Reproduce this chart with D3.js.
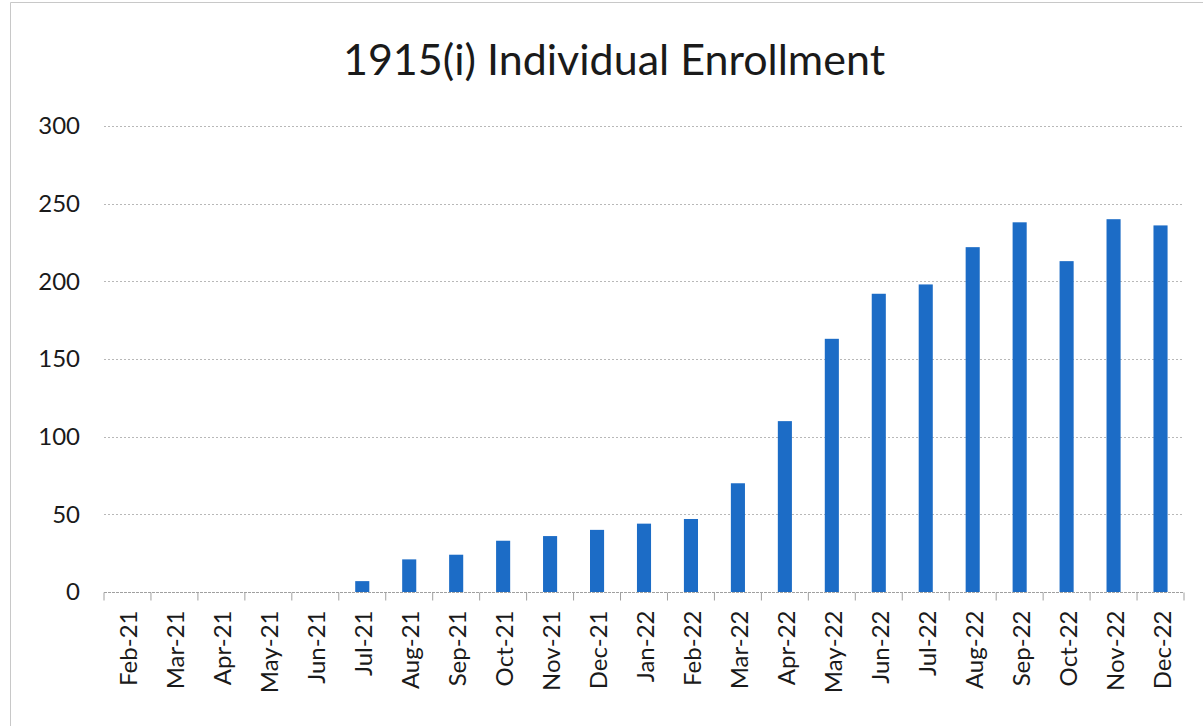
<!DOCTYPE html>
<html>
<head>
<meta charset="utf-8">
<script src="https://cdn.jsdelivr.net/npm/d3@7"></script>
<style>
  body { margin: 0; background: #fff; }
  svg { display: block; font-family: Lato, "Open Sans", sans-serif; }
</style>
</head>
<body>
<script>

// months on the x-axis
var months = ["Feb-21", "Mar-21", "Apr-21", "May-21", "Jun-21", "Jul-21", "Aug-21",
  "Sep-21", "Oct-21", "Nov-21", "Dec-21", "Jan-22", "Feb-22", "Mar-22", "Apr-22",
  "May-22", "Jun-22", "Jul-22", "Aug-22", "Sep-22", "Oct-22", "Nov-22", "Dec-22"];

// enrollment count per month
var enrollment = [0, 0, 0, 0, 0, 7, 21, 24, 33, 36, 40, 44, 47, 70, 110,
  163, 192, 198, 222, 238, 213, 240, 236];

// y-axis ticks
var yTicks = [0, 50, 100, 150, 200, 250, 300];

var chartTitle = "1915(i) Individual Enrollment";

window.onload = function() {
  drawChart();
};

function drawChart() {

  var width = 1203, height = 726;
  var margin = {top: 126, right: 19, bottom: 134, left: 104};

  var svg = d3.select("body")
    .append("svg")
    .attr("width", width)
    .attr("height", height);

  // faint frame of the scanned chart
  svg.append("path")
    .attr("d", "M10.5,726 L10.5,2.5 L1203,2.5")
    .attr("fill", "none")
    .attr("stroke", "#c8c8c8")
    .attr("stroke-width", 1);

  var xScale = d3.scaleBand()
    .domain(months)
    .range([margin.left, width - margin.right])
    .paddingInner(0.7)
    .paddingOuter(0.35);

  var yScale = d3.scaleLinear()
    .domain([0, 300])
    .range([height - margin.bottom, margin.top]);

  // gridlines
  svg.append("g")
    .selectAll("line")
    .data(yTicks.slice(1))
    .enter()
    .append("line")
    .attr("x1", margin.left)
    .attr("x2", width - margin.right)
    .attr("y1", function(d) { return Math.round(yScale(d)) + 0.5; })
    .attr("y2", function(d) { return Math.round(yScale(d)) + 0.5; })
    .attr("stroke", "#b8b8b8")
    .attr("stroke-dasharray", "2,2");

  // y-axis labels
  var yAxis = svg.append("g")
    .attr("transform", "translate(" + (margin.left - 24) + ",0)")
    .call(d3.axisLeft(yScale).tickValues(yTicks).tickSize(0).tickPadding(0));
  yAxis.select(".domain").remove();
  yAxis.selectAll("text")
    .attr("font-family", "Lato, 'Open Sans', sans-serif")
    .attr("font-size", 24)
    .attr("fill", "#1a1a1a");

  // bars
  svg.selectAll(".bar")
    .data(enrollment)
    .enter()
    .append("rect")
    .attr("class", "bar")
    .attr("x", function(d, i) { return xScale(months[i]); })
    .attr("y", function(d) { return yScale(d); })
    .attr("width", xScale.bandwidth())
    .attr("height", function(d) { return yScale(0) - yScale(d); })
    .attr("fill", "#1c6cc6");

  // x-axis with ticks between the categories
  var base = Math.round(yScale(0)) + 0.5;
  svg.append("line")
    .attr("x1", margin.left)
    .attr("x2", width - margin.right)
    .attr("y1", base)
    .attr("y2", base)
    .attr("stroke", "#a0a0a0")
    .attr("stroke-dasharray", "3,1");

  var bounds = d3.range(months.length + 1);
  svg.append("g")
    .selectAll("line")
    .data(bounds)
    .enter()
    .append("line")
    .attr("x1", function(i) { return margin.left + i * (width - margin.right - margin.left) / months.length; })
    .attr("x2", function(i) { return margin.left + i * (width - margin.right - margin.left) / months.length; })
    .attr("y1", base)
    .attr("y2", base + 8)
    .attr("stroke", "#a0a0a0");

  // rotated month labels
  svg.append("g")
    .selectAll("text")
    .data(months)
    .enter()
    .append("text")
    .attr("transform", function(d) {
      return "translate(" + (xScale(d) + xScale.bandwidth() / 2 + 10) + "," + (base + 18) + ") rotate(-90)";
    })
    .attr("text-anchor", "end")
    .attr("font-size", 24)
    .attr("fill", "#1a1a1a")
    .text(function(d) { return d; });

  // title
  svg.append("text")
    .attr("x", 614)
    .attr("y", 75)
    .attr("text-anchor", "middle")
    .attr("font-size", 43)
    .attr("fill", "#1a1a1a")
    .text(chartTitle);
}
</script>
</body>
</html>
